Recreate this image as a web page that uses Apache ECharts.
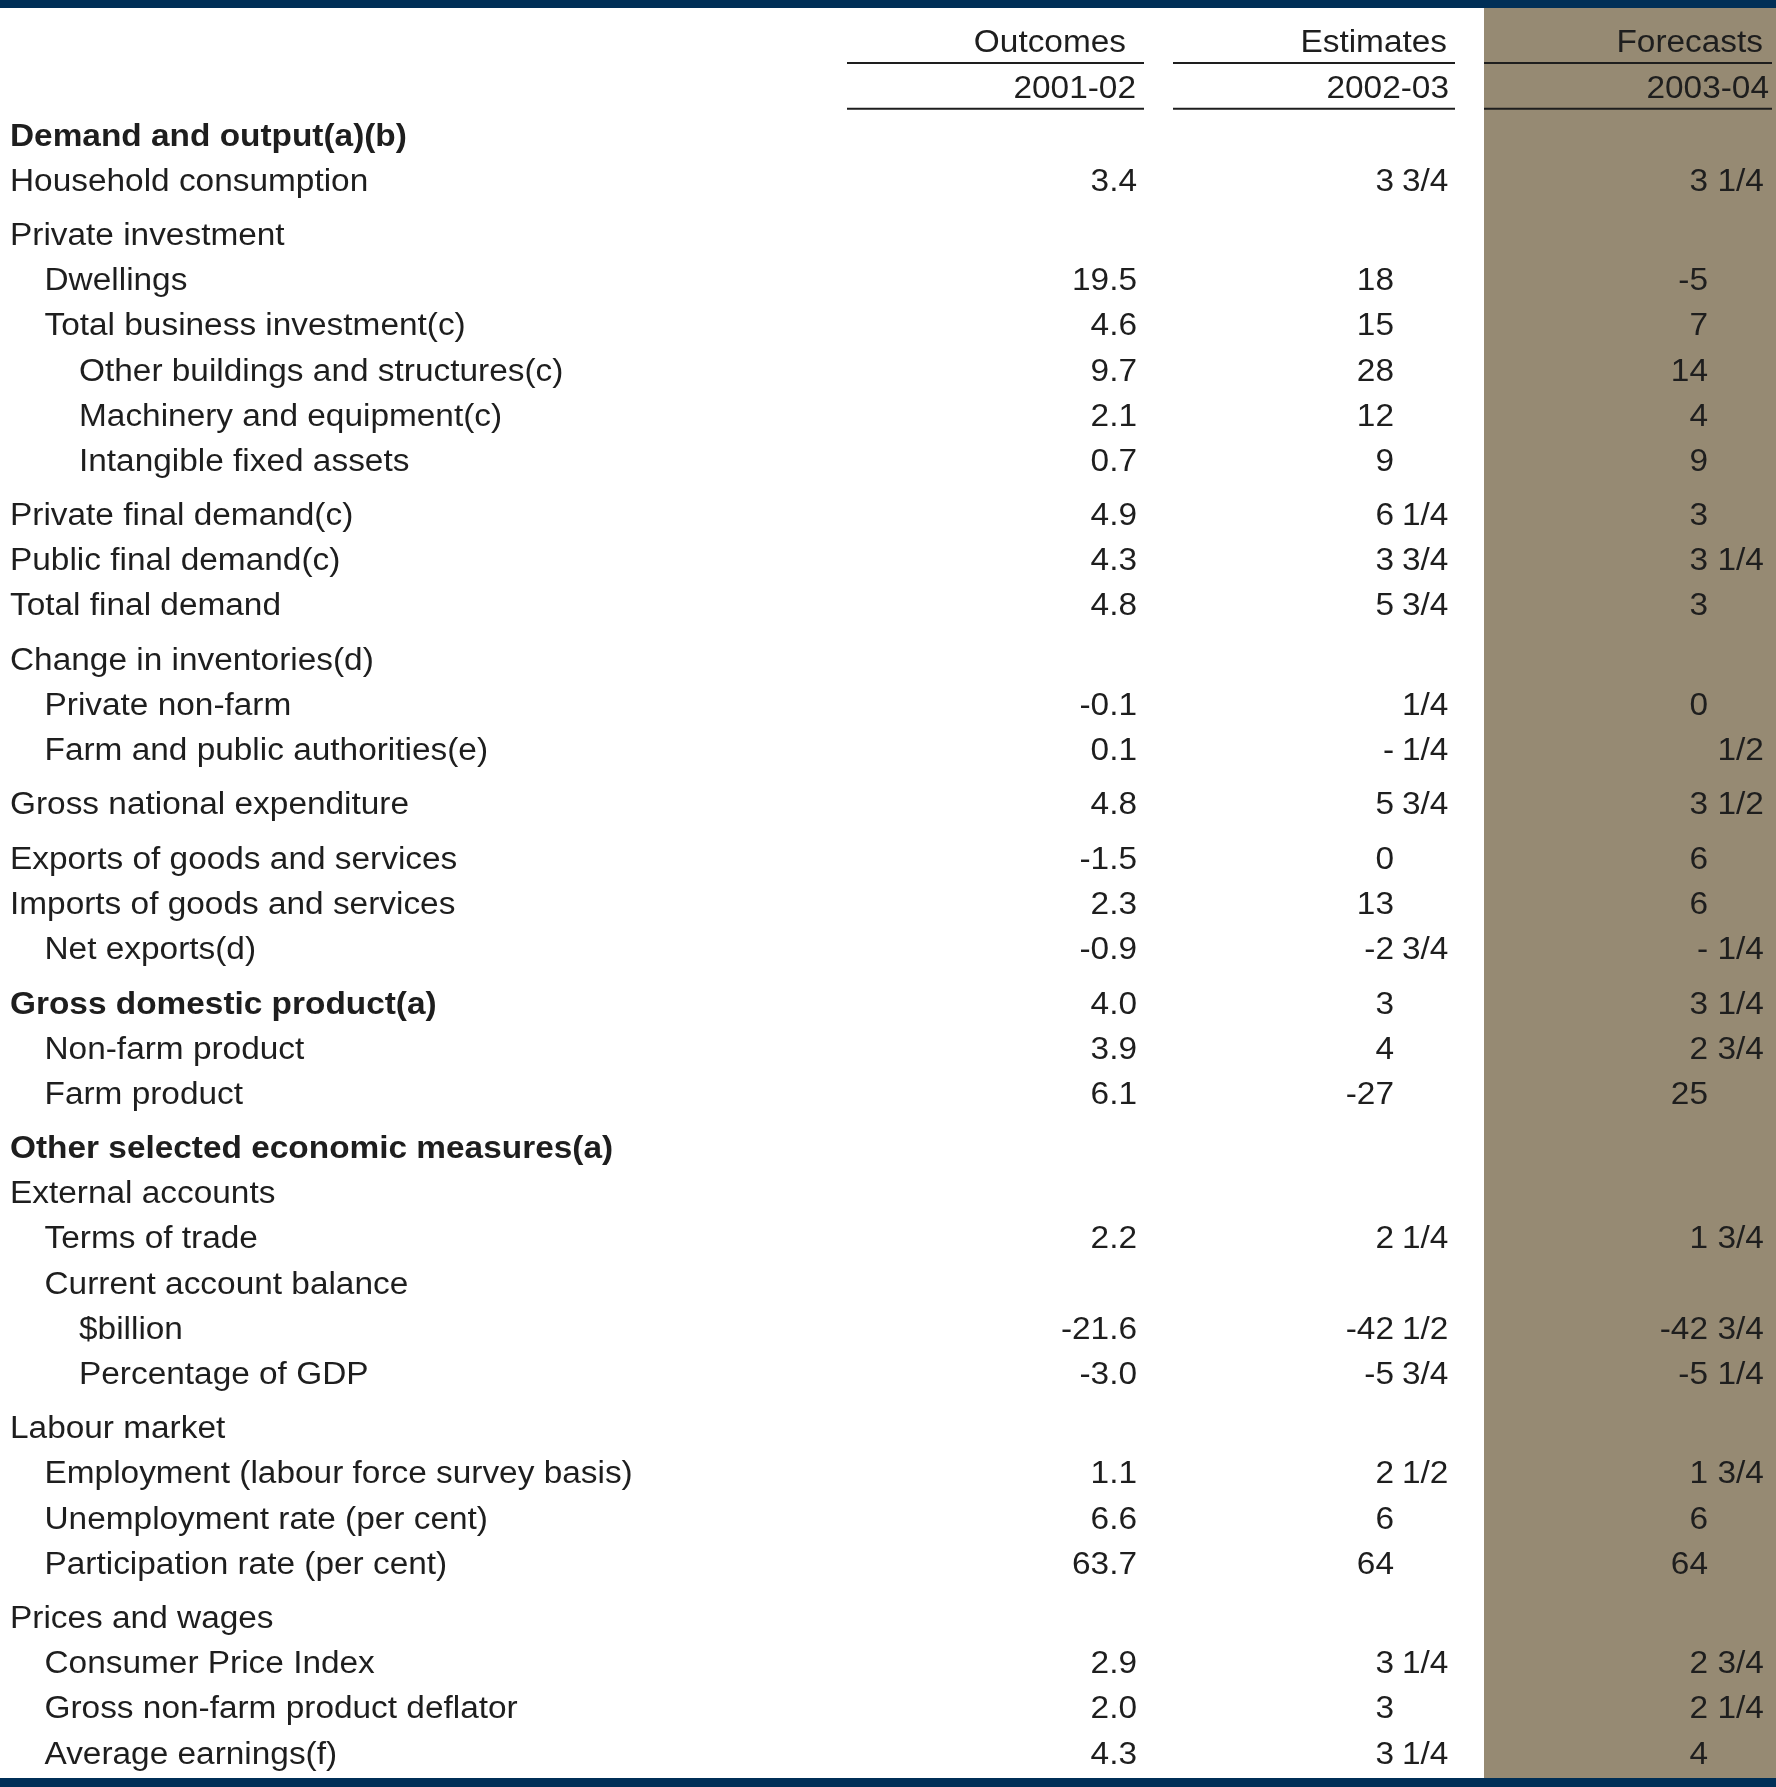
<!DOCTYPE html>
<html>
<head>
<meta charset="utf-8">
<style>
  html, body { margin: 0; padding: 0; background: #ffffff; }
  #chart { width: 1776px; height: 1787px; }
</style>
<script src="https://cdn.jsdelivr.net/npm/echarts@6/dist/echarts.min.js"></script>
</head>
<body>
<div id="chart"></div>
<script>
const columnTitles = ["Outcomes", "Estimates", "Forecasts"];
const columnYears = ["2001-02", "2002-03", "2003-04"];

const rowLabels = [
  "Demand and output(a)(b)",
  "Household consumption",
  "Private investment",
  "Dwellings",
  "Total business investment(c)",
  "Other buildings and structures(c)",
  "Machinery and equipment(c)",
  "Intangible fixed assets",
  "Private final demand(c)",
  "Public final demand(c)",
  "Total final demand",
  "Change in inventories(d)",
  "Private non-farm",
  "Farm and public authorities(e)",
  "Gross national expenditure",
  "Exports of goods and services",
  "Imports of goods and services",
  "Net exports(d)",
  "Gross domestic product(a)",
  "Non-farm product",
  "Farm product",
  "Other selected economic measures(a)",
  "External accounts",
  "Terms of trade",
  "Current account balance",
  "$billion",
  "Percentage of GDP",
  "Labour market",
  "Employment (labour force survey basis)",
  "Unemployment rate (per cent)",
  "Participation rate (per cent)",
  "Prices and wages",
  "Consumer Price Index",
  "Gross non-farm product deflator",
  "Average earnings(f)"
];

// indent level of each row label
const rowLevels = [0, 0, 0, 1, 1, 2, 2, 2, 0, 0, 0, 0, 1, 1, 0, 0, 0, 1, 0, 1, 1, 0, 0, 1, 1, 2, 2, 0, 1, 1, 1, 0, 1, 1, 1];
const boldRows = [0, 18, 21];
// rows that start a new block (small extra space above them)
const gapBefore = [2, 8, 11, 14, 15, 18, 21, 27, 31];

const outcomes = [
  "", "3.4", "", "19.5", "4.6", "9.7", "2.1", "0.7", "4.9", "4.3", "4.8", "", "-0.1", "0.1",
  "4.8", "-1.5", "2.3", "-0.9", "4.0", "3.9", "6.1", "", "", "2.2", "", "-21.6", "-3.0",
  "", "1.1", "6.6", "63.7", "", "2.9", "2.0", "4.3"
];
const estimates = [
  "", "3 3/4", "", "18", "15", "28", "12", "9", "6 1/4", "3 3/4", "5 3/4", "", "1/4", "- 1/4",
  "5 3/4", "0", "13", "-2 3/4", "3", "4", "-27", "", "", "2 1/4", "", "-42 1/2", "-5 3/4",
  "", "2 1/2", "6", "64", "", "3 1/4", "3", "3 1/4"
];
const forecasts = [
  "", "3 1/4", "", "-5", "7", "14", "4", "9", "3", "3 1/4", "3", "", "0", "1/2",
  "3 1/2", "6", "6", "- 1/4", "3 1/4", "2 3/4", "25", "", "", "1 3/4", "", "-42 3/4", "-5 1/4",
  "", "1 3/4", "6", "64", "", "2 3/4", "2 1/4", "4"
];

const layout = {
  width: 1776,
  height: 1787,
  font: '"Liberation Sans", Arial, Helvetica, sans-serif',
  fontSize: 31,
  stretch: 1.077,
  textShift: 4.5,
  ink: "#1e1e1e",
  navy: "#002f57",
  shade: "#968a73",
  indent: [10, 44.5, 79],
  valueAnchor: [1137, 1394, 1708],
  fracGap: [9, 8, 9.4],
  titleAnchor: [1126, 1447, 1763],
  yearAnchor: [1136, 1449, 1769],
  rules: [[847, 1144], [1173, 1455], [1484, 1772]],
  titleRow: -2.07,
  yearRow: -1.06,
  ruleRows: [-1.54, -0.527],
  blockGap: 0.204,
  rowMin: -2.935,
  rowMax: 36.645,
  bandLeft: 1484
};

const rowPos = rowLabels.map((_, i) => i + layout.blockGap * gapBefore.filter((g) => g <= i).length);

function splitValue(text) {
  if (!text.includes("/")) {
    return [text, ""];
  }
  const cut = text.lastIndexOf(" ");
  return cut < 0 ? ["", text] : [text.slice(0, cut).trim(), text.slice(cut + 1)];
}

function buildCells() {
  const cells = [];
  rowLabels.forEach((label, i) => {
    cells.push({ x: layout.indent[rowLevels[i]], u: rowPos[i], text: label, align: "left", bold: boldRows.includes(i) });
  });
  [outcomes, estimates, forecasts].forEach((column, c) => {
    cells.push({ x: layout.titleAnchor[c], u: layout.titleRow, text: columnTitles[c], align: "right" });
    cells.push({ x: layout.yearAnchor[c], u: layout.yearRow, text: columnYears[c], align: "right" });
    column.forEach((value, i) => {
      if (!value) return;
      const [whole, frac] = splitValue(value);
      if (whole) cells.push({ x: layout.valueAnchor[c], u: rowPos[i], text: whole, align: "right" });
      if (frac) cells.push({ x: layout.valueAnchor[c] + layout.fracGap[c], u: rowPos[i], text: frac, align: "left" });
    });
  });
  return cells;
}

const cells = buildCells();
const rules = [];
layout.ruleRows.forEach((u) => layout.rules.forEach(([x0, x1]) => rules.push({ x0, x1, u })));

const chart = echarts.init(document.getElementById("chart"), null, { renderer: "canvas" });

chart.setOption({
  animation: false,
  backgroundColor: "#ffffff",
  grid: { left: 0, right: 0, top: 0, bottom: 0 },
  xAxis: { type: "value", min: 0, max: layout.width, show: false },
  yAxis: { type: "value", min: layout.rowMin, max: layout.rowMax, inverse: true, show: false },
  graphic: [
    { type: "rect", z: 0, silent: true, shape: { x: layout.bandLeft, y: 8, width: layout.width - layout.bandLeft, height: 1770 }, style: { fill: layout.shade } },
    { type: "rect", z: 0, silent: true, shape: { x: 0, y: 0, width: layout.width, height: 8 }, style: { fill: layout.navy } },
    { type: "rect", z: 0, silent: true, shape: { x: 0, y: 1778, width: layout.width, height: 9 }, style: { fill: layout.navy } }
  ],
  series: [
    {
      name: "rules",
      type: "custom",
      z: 3,
      silent: true,
      data: rules.map((r) => [r.x0, r.u]),
      renderItem(params, api) {
        const r = rules[params.dataIndex];
        const a = api.coord([r.x0, r.u]);
        const b = api.coord([r.x1, r.u]);
        return {
          type: "line",
          shape: { x1: a[0], y1: a[1], x2: b[0], y2: b[1] },
          style: { stroke: layout.ink, lineWidth: 2 }
        };
      }
    },
    {
      name: "cells",
      type: "custom",
      z: 4,
      silent: true,
      data: cells.map((c) => [c.x, c.u]),
      renderItem(params, api) {
        const cell = cells[params.dataIndex];
        const p = api.coord([cell.x, cell.u]);
        return {
          type: "text",
          x: p[0],
          y: p[1] + layout.textShift,
          scaleX: layout.stretch,
          style: {
            text: cell.text,
            fontFamily: layout.font,
            fontSize: layout.fontSize,
            fontWeight: cell.bold ? "bold" : "normal",
            fill: layout.ink,
            align: cell.align,
            verticalAlign: "middle"
          }
        };
      }
    }
  ]
});
</script>
</body>
</html>
